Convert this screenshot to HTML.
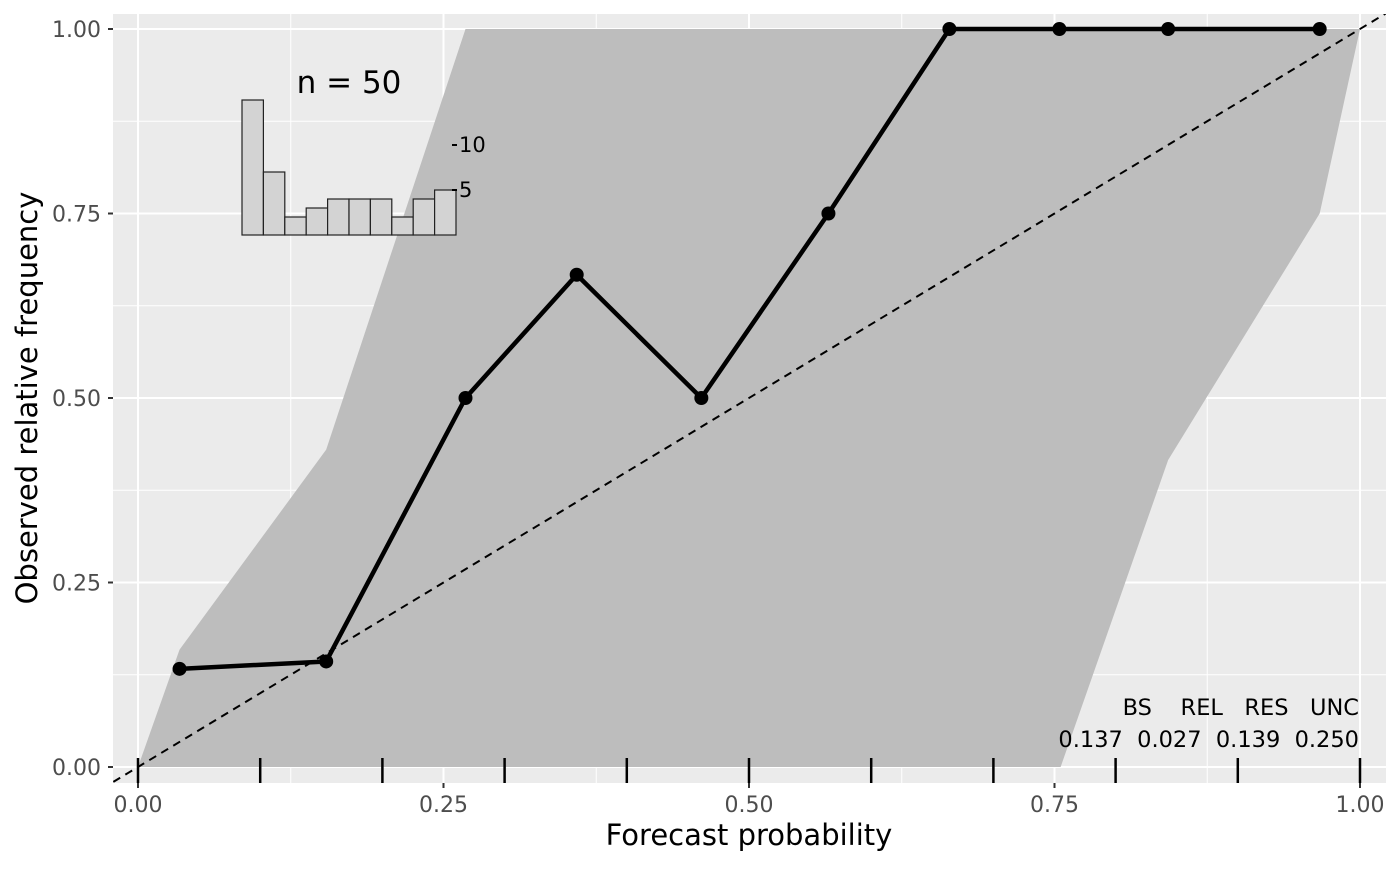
<!DOCTYPE html>
<html><head><meta charset="utf-8"><style>
html,body{margin:0;padding:0;background:#fff;}
svg text{font-family:"DejaVu Sans","Liberation Sans",sans-serif;}
</style></head><body>
<svg id="chart" width="1400" height="866" xmlns="http://www.w3.org/2000/svg">
<defs><clipPath id="pc"><rect x="113" y="14" width="1273" height="769"/></clipPath></defs>
<rect x="113" y="14" width="1273" height="769" fill="#ebebeb"/>
<g id="grid"></g>
<g id="plot" clip-path="url(#pc)"></g>
<g id="axes"></g>
</svg>
<script>
const xTicks=[0,0.25,0.5,0.75,1];
const yTicks=[0,0.25,0.5,0.75,1];
const tickLabels=["0.00","0.25","0.50","0.75","1.00"];
const forecastX=[0.034,0.154,0.268,0.359,0.461,0.565,0.664,0.754,0.843,0.967];
const observedY=[0.133,0.143,0.5,0.667,0.5,0.75,1,1,1,1];
const ribbonUpperX=[0,0.034,0.154,0.268,1];
const ribbonUpperY=[0,0.159,0.43,1,1];
const ribbonLowerX=[1,0.967,0.843,0.755,0];
const ribbonLowerY=[1,0.75,0.416,0,0];
const histCounts=[15,7,2,3,4,4,4,2,4,5];
const histTicks=[5,10];
const rugX=[0,0.1,0.2,0.3,0.4,0.5,0.6,0.7,0.8,0.9,1];
const scoreNames="BS    REL   RES   UNC";
const scoreValues="0.137  0.027  0.139  0.250";
const NS="http://www.w3.org/2000/svg";
const X=v=>138+v*1222, Y=v=>767-v*738;
function mk(tag,attrs,parent,txt){const e=document.createElementNS(NS,tag);for(const k in attrs)e.setAttribute(k,attrs[k]);if(txt!==undefined)e.textContent=txt;parent.appendChild(e);return e;}
const grid=document.getElementById('grid'),plot=document.getElementById('plot'),axes=document.getElementById('axes');
for(let i=0;i<4;i++){const m=0.125+i*0.25;
 let l=mk('line',{x1:X(m),x2:X(m),y1:14,y2:783,stroke:'#fff','stroke-width':1},grid);
 
 
 l=mk('line',{x1:113,x2:1386,y1:Y(m),y2:Y(m),stroke:'#fff','stroke-width':1},grid);
 
 }
xTicks.forEach(v=>{const l=mk('line',{x1:X(v),x2:X(v),y1:14,y2:783,stroke:'#fff','stroke-width':2},grid);
 
 });
yTicks.forEach(v=>{const l=mk('line',{x1:113,x2:1386,y1:Y(v),y2:Y(v),stroke:'#fff','stroke-width':2},grid);
 
 });
let pts=[];ribbonUpperX.forEach((x,i)=>pts.push(X(x)+','+Y(ribbonUpperY[i])));
ribbonLowerX.forEach((x,i)=>pts.push(X(x)+','+Y(ribbonLowerY[i])));
const rib=mk('polygon',{points:pts.join(' '),fill:'#bbbbbb','fill-opacity':0.97},plot);


const dg=mk('line',{x1:X(-0.03),y1:Y(-0.03),x2:X(1.03),y2:Y(1.03),stroke:'#000','stroke-width':2,'stroke-dasharray':'8,6'},plot);


rugX.forEach(v=>{const l=mk('line',{x1:X(v),x2:X(v),y1:758,y2:783,stroke:'#000','stroke-width':2.5},plot);
 
 });
const ln=mk('polyline',{points:forecastX.map((x,i)=>X(x)+','+Y(observedY[i])).join(' '),fill:'none',stroke:'#000','stroke-width':4.5,'stroke-linejoin':'round'},plot);


forecastX.forEach((x,i)=>{const c=mk('circle',{cx:X(x),cy:Y(observedY[i]),r:7,fill:'#000'},plot);
 
 });
const hx0=242,bw=21.4,hb=235,hs=9;
histCounts.forEach((c,i)=>{const r=mk('rect',{x:hx0+i*bw,y:hb-c*hs,width:bw,height:c*hs,fill:'#d3d3d3',stroke:'#222','stroke-width':1.2},axes);
 
 });
const hr=hx0+10*bw;
histTicks.forEach(t=>{mk('line',{x1:hr-4,x2:hr+1,y1:hb-t*hs,y2:hb-t*hs,stroke:'#000','stroke-width':2},axes);
 const tt=mk('text',{x:hr+3,y:hb-t*hs+7,'font-size':21,fill:'#000'},axes,String(t));
 
 });
let t=mk('text',{x:349,y:93,'font-size':31,'text-anchor':'middle',fill:'#000'},axes,'n = 50');


t=mk('text',{x:1359,y:715,'font-size':22.5,'text-anchor':'end',fill:'#000'},axes,scoreNames);
t.setAttribute('style','white-space:pre');


t=mk('text',{x:1359,y:747,'font-size':22.5,'text-anchor':'end',fill:'#000'},axes,scoreValues);
t.setAttribute('style','white-space:pre');


xTicks.forEach((v,i)=>{mk('line',{x1:X(v),x2:X(v),y1:783,y2:788,stroke:'#333','stroke-width':2},axes);
 const l=mk('text',{x:X(v),y:812,'font-size':22,'text-anchor':'middle',fill:'#4d4d4d'},axes,tickLabels[i]);
 
 });
yTicks.forEach((v,i)=>{mk('line',{x1:108,x2:113,y1:Y(v),y2:Y(v),stroke:'#333','stroke-width':2},axes);
 const l=mk('text',{x:101,y:Y(v)+8,'font-size':22,'text-anchor':'end',fill:'#4d4d4d'},axes,tickLabels[i]);
 
 });
t=mk('text',{x:749,y:845,'font-size':29,'text-anchor':'middle',fill:'#000'},axes,'Forecast probability');


t=mk('text',{x:37,y:398,'font-size':29,'text-anchor':'middle',fill:'#000',transform:'rotate(-90 37 398)'},axes,'Observed relative frequency');


</script>
</body></html>
